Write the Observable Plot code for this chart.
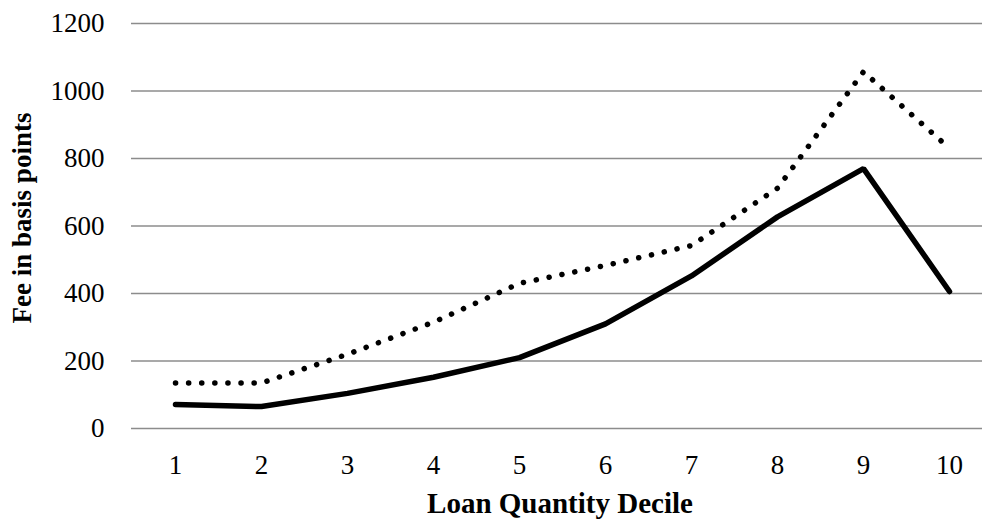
<!DOCTYPE html>
<html>
<head>
<meta charset="utf-8">
<script src="https://cdn.jsdelivr.net/npm/d3@7"></script>
<script src="https://cdn.jsdelivr.net/npm/@observablehq/plot@0.6"></script>
<style>
  html, body { margin: 0; padding: 0; background: #fff; }
  #chart svg { display: block; }
</style>
</head>
<body>
<div id="chart"></div>
<script>
const deciles = [1, 2, 3, 4, 5, 6, 7, 8, 9, 10];
const solidSeries = [71, 65, 104, 152, 210, 310, 452, 627, 770, 406];
const dottedSeries = [135, 135, 220, 315, 430, 483, 542, 712, 1057, 830];
const yTicks = [0, 200, 400, 600, 800, 1000, 1200];

const solidData = deciles.map((d, i) => ({decile: d, fee: solidSeries[i]}));
const dottedData = deciles.map((d, i) => ({decile: d, fee: dottedSeries[i]}));

const font = "'Liberation Serif', 'Times New Roman', serif";

const chart = Plot.plot({
  width: 982,
  height: 521,
  marginTop: 23,
  marginBottom: 93,
  marginLeft: 131,
  marginRight: 0,
  style: {fontFamily: font, fontSize: "27px", color: "#000", background: "#fff", overflow: "visible"},
  x: {type: "point", domain: deciles, range: [173.3, 950], padding: 0, label: null, axis: null},
  y: {domain: [0, 1200], label: null, axis: null},
  marks: [
    Plot.ruleY(yTicks, {stroke: "#8c8c8c", strokeWidth: 1.4}),
    // y tick labels
    Plot.text(yTicks, {y: d => d, frameAnchor: "left", dx: -27, textAnchor: "end",
      text: d => String(d), fontSize: 27, fill: "#000"}),
    // x tick labels
    Plot.text(deciles, {x: d => d, frameAnchor: "bottom", dy: 36.4, lineAnchor: "middle",
      text: d => String(d), fontSize: 27, fill: "#000"}),
    Plot.line(dottedData, {x: "decile", y: "fee", stroke: "#000", strokeWidth: 5.5,
      strokeDasharray: "0.1 13", strokeLinecap: "round", strokeLinejoin: "round"}),
    Plot.line(solidData, {x: "decile", y: "fee", stroke: "#000", strokeWidth: 5.5,
      strokeLinecap: "round", strokeLinejoin: "miter"}),
    Plot.text(["Loan Quantity Decile"], {frameAnchor: "bottom", dy: 75.7, dx: 3, lineAnchor: "middle",
      fontWeight: "bold", fontSize: 29, fill: "#000"}),
    Plot.text(["Fee in basis points"], {frameAnchor: "left", dx: -109, dy: -8, rotate: -90,
      textAnchor: "middle", lineAnchor: "middle", fontWeight: "bold", fontSize: 27, fill: "#000"})
  ]
});
document.getElementById("chart").appendChild(chart);
</script>
</body>
</html>
